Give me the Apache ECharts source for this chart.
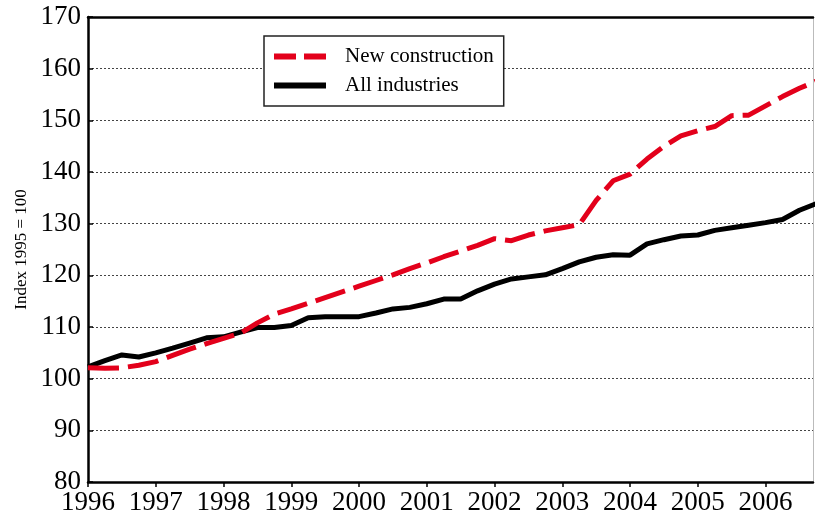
<!DOCTYPE html>
<html>
<head>
<meta charset="utf-8">
<script src="https://cdn.jsdelivr.net/npm/echarts@6/dist/echarts.min.js"></script>
<style>
html,body{margin:0;padding:0;background:#fff;}
#chart{width:815px;height:526px;}
</style>
</head>
<body>
<div id="chart"></div>
<script>
// Quarterly time points (year fractions)
var quarters = [
  1996.00,1996.25,1996.50,1996.75,
  1997.00,1997.25,1997.50,1997.75,
  1998.00,1998.25,1998.50,1998.75,
  1999.00,1999.25,1999.50,1999.75,
  2000.00,2000.25,2000.50,2000.75,
  2001.00,2001.25,2001.50,2001.75,
  2002.00,2002.25,2002.50,2002.75,
  2003.00,2003.25,2003.50,2003.75,
  2004.00,2004.25,2004.50,2004.75,
  2005.00,2005.25,2005.50,2005.75,
  2006.00,2006.25,2006.50,2006.75
];
var newConstruction = [
  102.1,102.0,102.1,102.6,
  103.3,104.5,105.7,106.8,
  107.8,108.8,110.8,112.5,
  113.5,114.6,115.7,116.8,
  117.9,119.0,120.1,121.3,
  122.4,123.6,124.7,125.8,
  127.1,126.7,127.8,128.6,
  129.2,129.8,134.5,138.3,
  139.6,142.5,145.0,147.0,
  148.0,148.8,150.9,151.0,
  152.8,154.6,156.2,157.6
];
var allIndustries = [
  102.3,103.5,104.6,104.2,
  105.0,105.9,106.9,107.9,
  108.1,109.0,109.9,109.9,
  110.3,111.8,112.0,112.0,
  112.0,112.7,113.5,113.8,
  114.5,115.4,115.4,117.0,
  118.3,119.3,119.7,120.1,
  121.3,122.6,123.5,124.0,
  123.9,126.1,126.9,127.6,
  127.8,128.7,129.2,129.7,
  130.2,130.8,132.6,133.9
];
var yearTicks = [1996,1997,1998,1999,2000,2001,2002,2003,2004,2005,2006];
var seriesNames = ['New construction','All industries'];
var yAxisTitle = 'Index 1995 = 100';

function pairs(xs, ys){ return xs.map(function(x,i){ return [x, ys[i]]; }); }

var serif = 'Liberation Serif';
var chart = echarts.init(document.getElementById('chart'), null, {renderer:'canvas'});
chart.setOption({
  animation:false,
  backgroundColor:'#fff',
  grid:{left:88, right:2, top:17, bottom:44},
  legend:{
    show:true,
    left:264, top:36,
    orient:'vertical',
    backgroundColor:'#fff',
    borderColor:'#222', borderWidth:1.5,
    padding:[10,10,10,7],
    itemWidth:52, itemHeight:20, itemGap:8,
    itemStyle:{opacity:0},
    textStyle:{fontFamily:serif, fontSize:21, color:'#000', padding:[0,0,0,14]},
    data:[
      {name:seriesNames[0], itemStyle:{opacity:0}, lineStyle:{width:6, type:[22,8], color:'#E3001B'}},
      {name:seriesNames[1], itemStyle:{opacity:0}, lineStyle:{width:6, color:'#000'}}
    ]
  },
  xAxis:[{
    type:'value', min:1996, max:2006.7, interval:1,
    axisLine:{show:true, onZero:false, lineStyle:{color:'#000', width:2.5}},
    axisTick:{show:true, inside:false, length:5, customValues:yearTicks, lineStyle:{color:'#000', width:1.5}},
    axisLabel:{customValues:yearTicks, fontFamily:serif, fontSize:27, color:'#000', margin:7,
      formatter:function(v){ return String(v); }},
    splitLine:{show:false}
  },{
    type:'value', position:'top', min:1996, max:2006.7,
    axisLine:{show:true, onZero:false, lineStyle:{color:'#000', width:2.5}},
    axisTick:{show:false}, axisLabel:{show:false}, splitLine:{show:false}
  }],
  yAxis:[{
    type:'value', min:80, max:170, interval:10,
    name:yAxisTitle, nameLocation:'middle', nameGap:58,
    nameTextStyle:{fontFamily:serif, fontSize:17, color:'#000'},
    axisLine:{show:true, onZero:false, lineStyle:{color:'#000', width:2.5}},
    axisTick:{show:true, inside:true, length:5, lineStyle:{color:'#000', width:1.5}},
    axisLabel:{fontFamily:serif, fontSize:27, color:'#000', margin:7},
    splitLine:{show:true, lineStyle:{color:'#444', width:1, type:[2,2]}}
  },{
    type:'value', position:'right', min:80, max:170,
    axisLine:{show:true, onZero:false, lineStyle:{color:'#bbb', width:1}},
    axisTick:{show:false}, axisLabel:{show:false}, splitLine:{show:false}
  }],
  series:[{
    name:seriesNames[0], type:'line', xAxisIndex:0, yAxisIndex:0,
    data:pairs(quarters,newConstruction),
    symbol:'none', showSymbol:false, clip:true, z:3,
    lineStyle:{color:'#E3001B', width:5, type:[31,9]},
    itemStyle:{color:'#E3001B'}
  },{
    name:seriesNames[1], type:'line', xAxisIndex:0, yAxisIndex:0,
    data:pairs(quarters,allIndustries),
    symbol:'none', showSymbol:false, clip:true, z:2,
    lineStyle:{color:'#000', width:5},
    itemStyle:{color:'#000'}
  }]
});
</script>
</body>
</html>
